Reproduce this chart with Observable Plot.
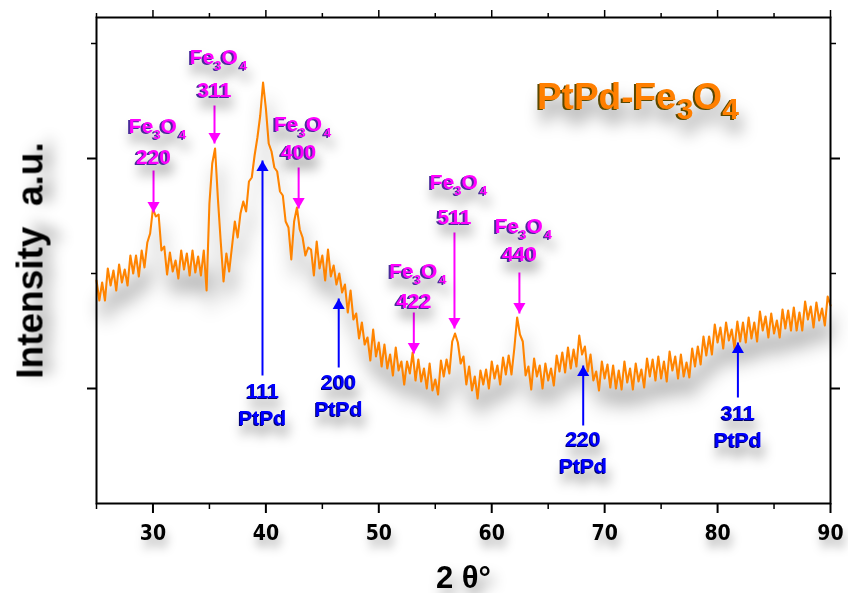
<!DOCTYPE html>
<html><head><meta charset="utf-8">
<script src="https://cdn.jsdelivr.net/npm/d3@7"></script>
<script src="https://cdn.jsdelivr.net/npm/@observablehq/plot@0.6"></script>
<style>
body{margin:0;background:#fff;}
#chart svg{display:block;}
#chart g[aria-description="xrd"]{filter:drop-shadow(4px 18px 9px rgba(0,0,0,0.45));}
#chart g[aria-label="x-axis tick label"] text{font-family:"Liberation Sans Narrow","DejaVu Sans Condensed","Liberation Sans",sans-serif;font-weight:bold;font-size:21px;filter:drop-shadow(2px 8px 5px rgba(0,0,0,0.3));}
#chart g[aria-description="fe-formula"] text, #chart g[aria-description="fe-hkl"] text{filter:drop-shadow(-1.2px 1px 0 #4a2a9a) drop-shadow(3px 10px 6px rgba(0,0,0,0.35));}
#chart g[aria-description="pt-hkl"] text, #chart g[aria-description="pt-name"] text{filter:drop-shadow(-1px 1px 0 #00006a) drop-shadow(3px 10px 6px rgba(0,0,0,0.35));}
#chart g[aria-description="title"] text{filter:drop-shadow(-1.5px 1.5px 0 #5a4800) drop-shadow(4px 14px 8px rgba(0,0,0,0.35));}
#chart g[aria-description="axis-title"] text{filter:drop-shadow(4px 10px 7px rgba(0,0,0,0.4));}
</style></head><body><div id="chart"></div>
<script>
// XRD scan: 2θ from 25° in steps of 0.25°
const scanStart = 25, scanStep = 0.25;
const intensity = [
 223,203,221,203, 235,218,233,213, 239,221,234,218, 248,230,248,227, 253,236,261,270,
 295,287,289,253, 257,229,251,232, 243,225,253,234, 250,228,253,231, 247,228,253,213,
 300,340,355,305, 262,222,250,232, 257,282,266,290, 302,292,322,326, 348,366,388,421,
 395,360,352,336, 332,312,308,282, 276,244,282,296, 274,266,248,256, 254,228,262,235,
 248,223,254,227, 238,219,230,211, 219,191,213,184, 190,165,181,159, 166,143,174,147,
 161,137,159,135, 149,128,156,133, 142,119,142,130, 151,123,144,122, 135,115,140,113,
 124,109,143,127, 144,130,162,170, 161,140,147,119, 137,113,127,105, 133,119,134,115,
 142,125,138,119, 146,129,148,129, 155,186,169,162, 128,137,114,145, 127,138,115,140,
 123,135,118,148, 132,151,131,156, 135,154,137,168, 149,157,132,149, 123,132,113,142,
 125,139,116,138, 115,133,114,142, 121,135,114,140, 122,134,116,145, 127,144,123,147,
 125,142,122,152, 133,147,125,149, 127,141,126,155, 137,157,139,167, 148,167,149,179,
 161,176,155,181, 163,174,155,182, 162,181,161,186, 165,181,162,192, 173,187,166,190,
 170,183,166,194, 175,193,173,196, 173,191,173,202, 184,197,176,201, 183,195,178,207,
 198
];

// Fe3O4 reflections (magenta, arrows pointing down)
const feHkl   = ["220","311","400","422","511","440"];
const fePeak  = [30.05, 35.45, 42.9, 53.1, 56.7, 62.45];
const feNameY = [371, 440, 373, 226, 315, 271];
const feHklY  = [340, 407, 345, 196, 280, 243];
const feTail  = [333, 398, 336, 191, 271, 231];
const feTip   = [291, 360, 295, 150, 175, 190];

// PtPd reflections (blue, arrows pointing up)
const ptHkl   = ["111","200","220","311"];
const ptPeak  = [39.7, 46.45, 68.1, 81.8];
const ptTip   = [343, 205, 138, 161];
const ptTail  = [128, 136, 78, 106];
const ptHklY  = [106, 115, 58, 84];
const ptNameY = [79, 88, 31, 57];

const xMajor = [30,40,50,60,70,80,90];
const xMinor = [25,35,45,55,65,75,85];
const yMajor = [115,345];
const yMinor = [230,460];

const scan = intensity.map((v,i)=>({angle: scanStart + i*scanStep, intensity: v}));
const fe = feHkl.map((h,i)=>({hkl:h, x:fePeak[i], ny:feNameY[i], hy:feHklY[i], t:feTail[i], p:feTip[i]}));
const pt = ptHkl.map((h,i)=>({hkl:h, x:ptPeak[i], ny:ptNameY[i], hy:ptHklY[i], t:ptTail[i], p:ptTip[i]}));

const blank = () => "";
const chart = Plot.plot({
  width: 848, height: 593,
  marginLeft: 96, marginRight: 18, marginTop: 17, marginBottom: 90,
  x: {domain:[25,90]},
  y: {domain:[0,486]},
  style: {background:"white", fontFamily:"'Liberation Sans', Arial, sans-serif", color:"black"},
  marks: [
    Plot.text(["Intensity  a.u."], {frameAnchor:"left", textAnchor:"middle", dx:-66, rotate:-90, fontSize:37, fontWeight:"bold", fill:"black", ariaDescription:"axis-title"}),
    Plot.text(["2 θ°"], {frameAnchor:"bottom", textAnchor:"middle", dy:84, lineAnchor:"bottom", fontSize:31, fontWeight:"bold", fill:"black", ariaDescription:"axis-title"}),
    Plot.text(["PtPd-Fe3O4"], {x:64.0, y:395, textAnchor:"start", lineAnchor:"bottom", fontSize:37, fontWeight:"bold", fill:"#ff7f00", ariaDescription:"title"}),
    Plot.line(scan, {x:"angle", y:"intensity", stroke:"#ff8400", strokeWidth:2.1, ariaDescription:"xrd"}),
    Plot.link(fe, {x1:"x", y1:"t", x2:"x", y2:"p", stroke:"#ff00ff", strokeWidth:2}),
    Plot.dot(fe, {x:"x", y:"p", symbol:"triangle", r:4.5, rotate:180, dy:-7, fill:"#ff00ff", stroke:"none"}),
    Plot.text(fe, {x:"x", y:"ny", text:()=>"Fe3O4", dx:4, lineAnchor:"bottom", fill:"#ff00ff", fontSize:21, fontWeight:"bold", ariaDescription:"fe-formula"}),
    Plot.text(fe, {x:"x", y:"hy", text:"hkl", lineAnchor:"bottom", fill:"#ff00ff", fontSize:21, fontWeight:"bold", ariaDescription:"fe-hkl"}),
    Plot.link(pt, {x1:"x", y1:"t", x2:"x", y2:"p", stroke:"#0000ff", strokeWidth:2}),
    Plot.dot(pt, {x:"x", y:"p", symbol:"triangle", r:4.5, dy:7, fill:"#0000ff", stroke:"none"}),
    Plot.text(pt, {x:"x", y:"hy", text:"hkl", lineAnchor:"bottom", fill:"#0000ff", fontSize:21, fontWeight:"bold", ariaDescription:"pt-hkl"}),
    Plot.text(pt, {x:"x", y:"ny", text:()=>"PtPd", lineAnchor:"bottom", fill:"#0000ff", fontSize:21, fontWeight:"bold", ariaDescription:"pt-name"}),
    Plot.axisX(xMajor, {anchor:"bottom", tickSize:10, tickPadding:12, strokeWidth:2, label:null}),
    Plot.axisX(xMinor, {anchor:"bottom", tickSize:6, strokeWidth:1.5, tickFormat:blank, label:null}),
    Plot.axisX(xMajor, {anchor:"top", tickSize:8, strokeWidth:1.5, tickFormat:blank, label:null}),
    Plot.axisX(xMinor, {anchor:"top", tickSize:5, strokeWidth:1.5, tickFormat:blank, label:null}),
    Plot.axisY(yMajor, {anchor:"left", tickSize:9, strokeWidth:2, tickFormat:blank, label:null}),
    Plot.axisY(yMinor, {anchor:"left", tickSize:5, strokeWidth:1.5, tickFormat:blank, label:null}),
    Plot.axisY(yMajor, {anchor:"right", tickSize:9, strokeWidth:2, tickFormat:blank, label:null}),
    Plot.axisY(yMinor, {anchor:"right", tickSize:5, strokeWidth:1.5, tickFormat:blank, label:null}),
    Plot.frame({stroke:"black", strokeWidth:2})
  ]
});
document.getElementById("chart").appendChild(chart);

// subscripts for chemical formulas
chart.querySelectorAll('g[aria-description="fe-formula"] text').forEach(t => {
  t.innerHTML = 'Fe<tspan font-size="13" dy="6">3</tspan><tspan dy="-6">O</tspan><tspan font-size="13" dy="6" dx="2">4</tspan>';
});
chart.querySelectorAll('g[aria-description="title"] text').forEach(t => {
  t.innerHTML = 'PtPd-Fe<tspan font-size="30" dy="10">3</tspan><tspan dy="-10">O</tspan><tspan font-size="30" dy="10">4</tspan>';
});
</script></body></html>
